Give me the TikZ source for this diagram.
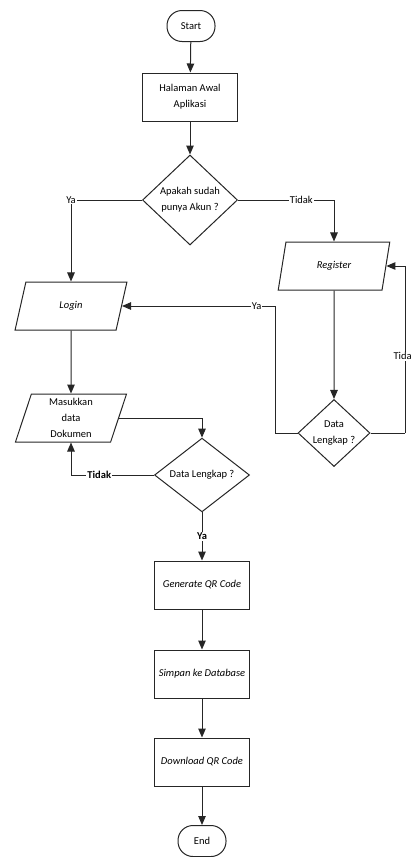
\documentclass[tikz,border=0pt]{standalone}
\usepackage{fontspec}
\setmainfont{Carlito}
\usepackage{tikz}
\usetikzlibrary{arrows.meta}
\usetikzlibrary{shapes.geometric}
\tikzset{alur/.style = {draw = black!85, line width = 1pt,
                        -{Triangle[length = 9pt, width = 7.5pt]}}}
\tikzset{garis/.style = {draw = black!85, line width = 1pt}}
\tikzset{terminal/.style = {draw = black!85, line width = 1pt, rectangle,
                            rounded corners = 15pt, minimum width = 48pt,
                            minimum height = 31pt}}
\tikzset{proses/.style = {draw = black!85, line width = 1pt, rectangle,
                          minimum width = 95pt, minimum height = 48pt,
                          align = center}}
\tikzset{masukan/.style = {draw = black!85, line width = 1pt, trapezium,
                           trapezium left angle = 73, trapezium right angle = 107,
                           trapezium stretches = true, minimum width = 112pt,
                           minimum height = 48pt, inner sep = 0}}
\tikzset{pilihan/.style = {draw = black!85, line width = 1pt, diamond,
                           align = center, inner sep = 0}}
\tikzset{lbl/.style = {fill = white, inner sep = 1pt}}

\begin{document}
\begin{tikzpicture}[x = 1pt, y = -1pt, font = \fontsize{10.5}{16}\selectfont]
    \useasboundingbox (0, 0) rectangle (411, 857);
    \clip (0, 0) rectangle (411, 857);
    \node (start) at (191, 26) [terminal] {Start};
    \node (halaman) at (190, 97) [proses] {Halaman Awal\\Aplikasi};
    \node (tanya) at (190, 200) [pilihan, minimum width = 95pt, minimum height = 90pt]
        {Apakah sudah\\punya Akun ?};
    \node (login) at (71, 306) [masukan] {\itshape Login};
    \node (register) at (334, 266) [masukan] {\itshape Register};
    \node (cek1) at (334, 433) [pilihan, minimum width = 72pt, minimum height = 63pt]
        {Data\\Lengkap ?};
    \node (dok) at (71, 418) [masukan, text width = 60pt, align = center]
        {Masukkan\\data\\Dokumen};
    \node (cek2) at (202, 475) [pilihan, minimum width = 95pt, minimum height = 65pt]
        {Data Lengkap ?};
    \node (generate) at (202, 585) [proses] {\itshape Generate QR Code};
    \node (simpan) at (202, 674) [proses] {\itshape Simpan ke Database};
    \node (download) at (202, 762) [proses] {\itshape Download QR Code};
    \node (end) at (202, 841) [terminal] {End};
    \coordinate (kanan) at (405, 433);
    \coordinate (kiri) at (275, 433);

    \draw [alur] (start) -- (halaman);
    \draw [alur] (halaman) -- (tanya);
    \draw [alur] (tanya) -| node [lbl, pos = 0.5] {Ya} (login);
    \draw [alur] (tanya) -| node [lbl, pos = 0.33] {Tidak} (register);
    \draw [alur] (register) -- (cek1);
    \draw [garis] (cek1.east) -- (kanan);
    \draw [alur] (kanan) |- node [lbl, pos = 0.23] {Tidak} (register);
    \draw [garis] (cek1.west) -- (kiri);
    \draw [alur] (kiri) |- node [lbl, pos = 0.56] {Ya} (login);
    \draw [alur] (login) -- (dok);
    \draw [alur] (dok) -| (cek2);
    \draw [alur] (cek2) -| node [lbl, pos = 0.33, font = \fontsize{10.5}{16}\selectfont\bfseries] {Tidak} (dok);
    \draw [alur] (cek2) -- node [lbl, pos = 0.5, font = \fontsize{10.5}{16}\selectfont\bfseries] {Ya} (generate);
    \draw [alur] (generate) -- (simpan);
    \draw [alur] (simpan) -- (download);
    \draw [alur] (download) -- (end);
\end{tikzpicture}
\end{document}
